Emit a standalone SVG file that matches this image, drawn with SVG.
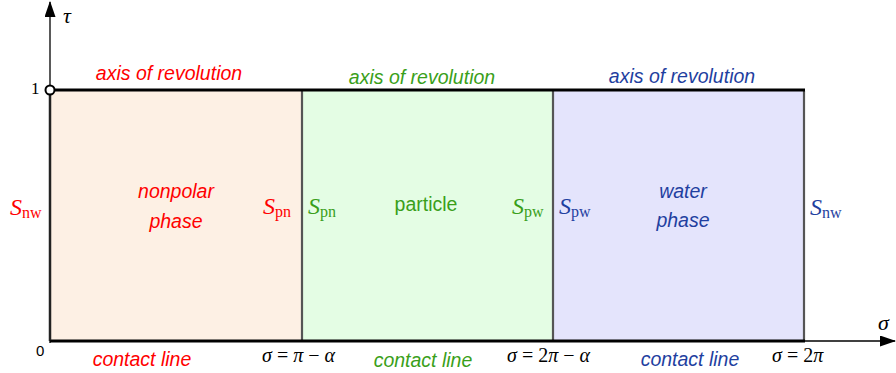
<svg xmlns="http://www.w3.org/2000/svg" width="896" height="373" viewBox="0 0 896 373">
<style>
.lbl{font-family:"Liberation Sans",Arial,sans-serif;font-style:italic;font-size:19.5px;text-anchor:middle}
.up{font-family:"Liberation Sans",Arial,sans-serif;font-size:19.5px;text-anchor:middle}
.m{font-family:"Liberation Serif","Times New Roman",serif;font-size:20px}
.S{font-family:"Liberation Serif","Times New Roman",serif;font-style:italic;font-size:24px}
.sub{font-family:"Liberation Serif","Times New Roman",serif;font-size:16px;font-style:normal}
.red{fill:#ff0000}.grn{fill:#3a9f1a}.blu{fill:#1f3fa0}
.div{stroke:#555;stroke-width:2.2;fill:none}
</style>
<defs>
<marker id="ah" markerWidth="16" markerHeight="11" refX="15" refY="5.5" orient="auto" markerUnits="userSpaceOnUse">
<path d="M0,0 L16,5.5 L0,11 Z" fill="#000"/>
</marker>
</defs>
<g id="nonpolar">
<rect x="50" y="90" width="252" height="251" fill="#fdf0e4"/>
<text class="lbl red" x="169" y="80">axis of revolution</text>
<text class="lbl red" x="176" y="198">nonpolar</text>
<text class="lbl red" x="176" y="228">phase</text>
<text class="lbl red" x="142" y="366">contact line</text>
<text class="S red" x="10" y="215">S<tspan class="sub" dy="3">nw</tspan></text>
<text class="S red" x="263" y="214">S<tspan class="sub" dy="3">pn</tspan></text>
</g>
<g id="particle">
<rect x="302" y="90" width="251" height="251" fill="#e4fde4"/>
<text class="lbl grn" x="422" y="84">axis of revolution</text>
<text class="up grn" x="426" y="211">particle</text>
<text class="lbl grn" x="423" y="367">contact line</text>
<text class="S grn" x="308" y="214">S<tspan class="sub" dy="3">pn</tspan></text>
<text class="S grn" x="512" y="214">S<tspan class="sub" dy="3">pw</tspan></text>
</g>
<g id="water">
<rect x="553" y="90" width="251" height="251" fill="#e4e4fc"/>
<text class="lbl blu" x="682" y="83">axis of revolution</text>
<text class="lbl blu" x="683" y="198">water</text>
<text class="lbl blu" x="683" y="227">phase</text>
<text class="lbl blu" x="690" y="366">contact line</text>
<text class="S blu" x="559" y="214">S<tspan class="sub" dy="3">pw</tspan></text>
<text class="S blu" x="810" y="215">S<tspan class="sub" dy="3">nw</tspan></text>
</g>
<g id="connectors">
<line class="div" x1="302" y1="91" x2="302" y2="341"/>
<line class="div" x1="553" y1="91" x2="553" y2="341"/>
<line class="div" x1="804" y1="91" x2="804" y2="341"/>
<line x1="50" y1="90" x2="805" y2="90" stroke="#000" stroke-width="3"/>
<line x1="50" y1="341" x2="805" y2="341" stroke="#000" stroke-width="3"/>
<line x1="50" y1="343" x2="50" y2="2" stroke="#000" stroke-width="1.3" marker-end="url(#ah)"/>
<line x1="50" y1="90" x2="50" y2="341" stroke="#222" stroke-width="2.5"/>
<line x1="50" y1="341" x2="895" y2="341" stroke="#000" stroke-width="1.3" marker-end="url(#ah)"/>
<circle cx="50" cy="90" r="4.5" fill="#fff" stroke="#000" stroke-width="2"/>
</g>
<g id="labels">
<text class="m" x="63" y="23" style="font-style:italic;font-size:22px">τ</text>
<text class="m" x="878" y="330" style="font-style:italic;font-size:22px">σ</text>
<text class="m" x="31" y="94" style="font-size:17px">1</text>
<text x="36" y="356" style="font-family:'Liberation Sans',Arial,sans-serif;font-size:15px">0</text>
<text class="m" x="262" y="362"><tspan font-style="italic">σ</tspan> = <tspan font-style="italic">π</tspan> − <tspan font-style="italic">α</tspan></text>
<text class="m" x="507" y="362"><tspan font-style="italic">σ</tspan> = 2<tspan font-style="italic">π</tspan> − <tspan font-style="italic">α</tspan></text>
<text class="m" x="772" y="362"><tspan font-style="italic">σ</tspan> = 2<tspan font-style="italic">π</tspan></text>
</g>
</svg>
